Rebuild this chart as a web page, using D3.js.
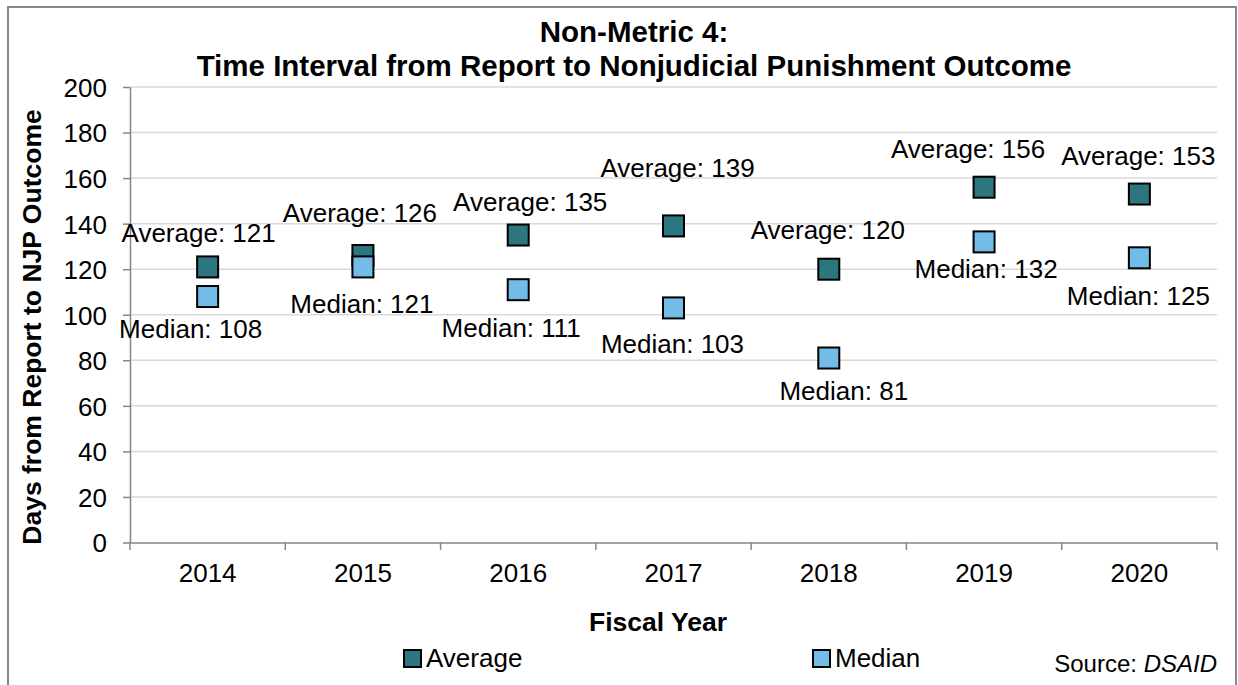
<!DOCTYPE html>
<html>
<head>
<meta charset="utf-8">
<script src="https://cdn.jsdelivr.net/npm/d3@7"></script>
<style>
  html, body { margin: 0; padding: 0; background: #fff; }
  svg { display: block; font-family: "Liberation Sans", Arial, sans-serif; }
</style>
</head>
<body>
<svg id="chart" width="1238" height="685"></svg>
<script>
// ---- data ----
const categories = ["2014", "2015", "2016", "2017", "2018", "2019", "2020"];
const averageValues = [121, 126, 135, 139, 120, 156, 153];
const medianValues = [108, 121, 111, 103, 81, 132, 125];
const yTicks = [0, 20, 40, 60, 80, 100, 120, 140, 160, 180, 200];
const titleLines = ["Non-Metric 4:", "Time Interval from Report to Nonjudicial Punishment Outcome"];
const yAxisTitle = "Days from Report to NJP Outcome";
const xAxisTitle = "Fiscal Year";

// ---- layout (label offsets in px relative to marker centre; dy is baseline) ----
const avgLabelOffsets = [[-9, -25], [-3, -34], [12, -24], [4, -49], [-1, -30], [-16, -29], [-1, -29]];
const medLabelOffsets = [[-17, 41], [-1, 46], [-7, 47], [-1, 45], [15, 42], [2, 36], [-1, 47]];

const svg = d3.select("#chart");
const plot = { left: 130, right: 1217, top: 87, bottom: 542.5 };
const colors = { avg: "#2d7680", med: "#74bce8" };
const markerSize = 21;

// outer border
svg.append("rect")
  .attr("x", 8).attr("y", 7).attr("width", 1228).attr("height", 700)
  .attr("fill", "#fff").attr("stroke", "#898989").attr("stroke-width", 2);

const x = d3.scaleBand().domain(categories).range([plot.left, plot.right]).padding(0);
const y = d3.scaleLinear().domain([0, 200]).range([plot.bottom, plot.top]);

// gridlines
svg.append("g").selectAll("line").data(yTicks.filter(t => t > 0)).join("line")
  .attr("x1", plot.left).attr("x2", plot.right)
  .attr("y1", d => y(d)).attr("y2", d => y(d))
  .attr("stroke", "#d9d9d9").attr("stroke-width", 1.5);

// y axis
const yAxis = svg.append("g")
  .attr("transform", `translate(${plot.left},0)`)
  .call(d3.axisLeft(y).tickValues(yTicks).tickSize(7).tickPadding(16).tickSizeOuter(0));
yAxis.select(".domain").attr("stroke", "#868686").attr("stroke-width", 1.5);
yAxis.selectAll(".tick line").attr("stroke", "#868686").attr("stroke-width", 1.5);
yAxis.selectAll(".tick text").attr("font-size", 26).attr("fill", "#000")
  .attr("font-family", "Liberation Sans, Arial, sans-serif").attr("dy", "0.36em");

// x axis
const xAxis = svg.append("g")
  .attr("transform", `translate(0,${plot.bottom})`)
  .call(d3.axisBottom(x).tickSize(0).tickPadding(39));
xAxis.select(".domain").attr("stroke", "#868686").attr("stroke-width", 1.5);
xAxis.selectAll(".tick text").attr("font-size", 26).attr("fill", "#000")
  .attr("font-family", "Liberation Sans, Arial, sans-serif").attr("dy", "0");
// x tick marks at category boundaries
const boundaries = categories.map(c => x(c)).concat([x(categories[categories.length - 1]) + x.bandwidth()]);
svg.append("g").selectAll("line").data(boundaries).join("line")
  .attr("x1", d => d).attr("x2", d => d)
  .attr("y1", plot.bottom).attr("y2", plot.bottom + 7.5)
  .attr("stroke", "#868686").attr("stroke-width", 1.5);

// markers
const cx = c => x(c) + x.bandwidth() / 2;
function drawSeries(values, color) {
  svg.append("g").selectAll("rect").data(values).join("rect")
    .attr("x", (d, i) => cx(categories[i]) - markerSize / 2)
    .attr("y", d => y(d) - markerSize / 2)
    .attr("width", markerSize).attr("height", markerSize)
    .attr("fill", color).attr("stroke", "#000").attr("stroke-width", 2);
}
function drawLabels(values, offsets, prefix) {
  svg.append("g").selectAll("text").data(values).join("text")
    .attr("x", (d, i) => cx(categories[i]) + offsets[i][0])
    .attr("y", (d, i) => y(d) + offsets[i][1])
    .attr("text-anchor", "middle").attr("font-size", 26).attr("fill", "#000")
    .text(d => `${prefix}: ${d}`);
}
drawSeries(averageValues, colors.avg);
drawSeries(medianValues, colors.med);
drawLabels(averageValues, avgLabelOffsets, "Average");
drawLabels(medianValues, medLabelOffsets, "Median");

// titles
svg.append("g").selectAll("text").data(titleLines).join("text")
  .attr("x", 634).attr("y", (d, i) => 42 + i * 34)
  .attr("text-anchor", "middle").attr("font-size", 29.5).attr("font-weight", "bold")
  .text(d => d);

svg.append("text")
  .attr("transform", `translate(41,327) rotate(-90)`)
  .attr("text-anchor", "middle").attr("font-size", 26.5).attr("font-weight", "bold")
  .text(yAxisTitle);

svg.append("text")
  .attr("x", 658).attr("y", 631)
  .attr("text-anchor", "middle").attr("font-size", 26.5).attr("font-weight", "bold")
  .text(xAxisTitle);

// legend
const legendItems = [
  { label: "Average", color: colors.avg, x: 404 },
  { label: "Median", color: colors.med, x: 813 }
];
const lg = svg.append("g").selectAll("g").data(legendItems).join("g");
lg.append("rect")
  .attr("x", d => d.x).attr("y", 650).attr("width", 17).attr("height", 17)
  .attr("fill", d => d.color).attr("stroke", "#000").attr("stroke-width", 2);
lg.append("text")
  .attr("x", d => d.x + 22).attr("y", 667)
  .attr("font-size", 26).text(d => d.label);

// source
const src = svg.append("text").attr("x", 1217).attr("y", 672)
  .attr("text-anchor", "end").attr("font-size", 24);
src.append("tspan").text("Source: ");
src.append("tspan").attr("font-style", "italic").text("DSAID");
</script>
</body>
</html>
